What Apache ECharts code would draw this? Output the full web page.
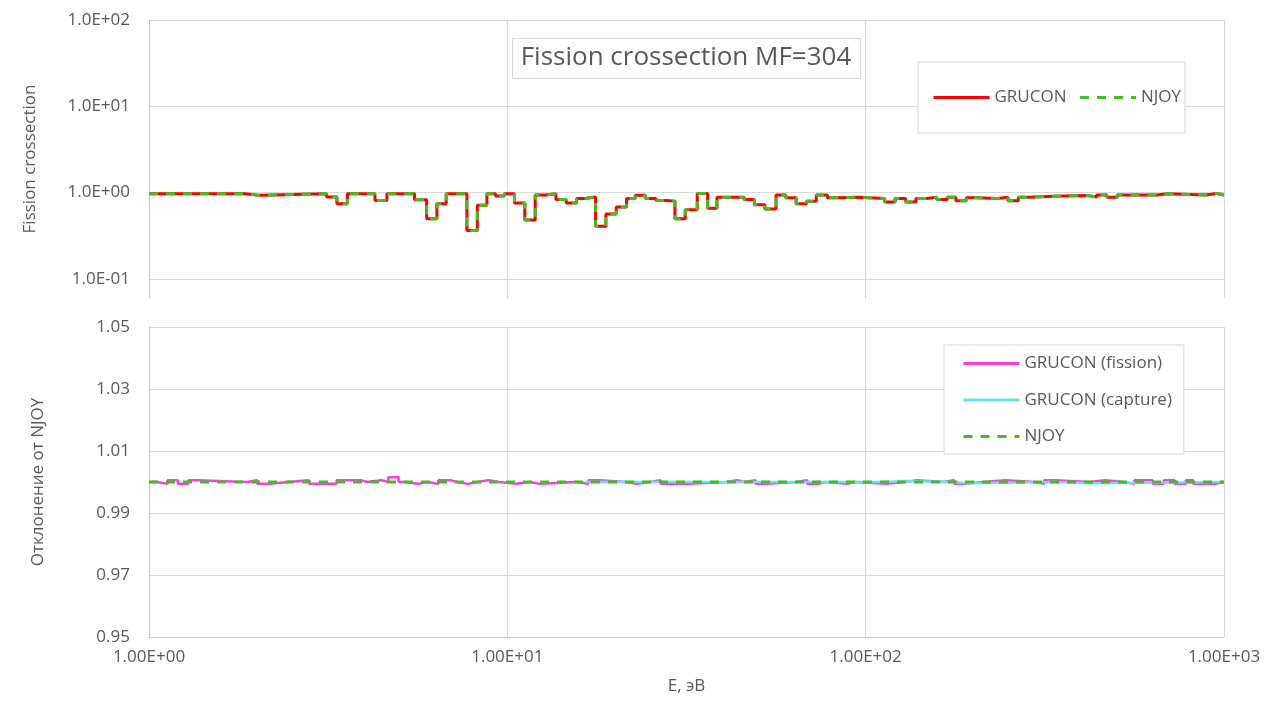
<!DOCTYPE html>
<html><head><meta charset="utf-8">
<script src="https://cdn.jsdelivr.net/npm/echarts@6/dist/echarts.min.js"></script>
<style>html,body{margin:0;padding:0;background:#fff}#c{width:1269px;height:703px}</style>
</head><body><div id="c"></div>
<script>
// ---- data ----
// top chart: group lower edges (eV), last entry = upper edge 1000 eV
const topEdges = [1,1.860,2.031,3.131,3.345,3.576,4.270,4.612,5.508,5.953,
  6.360,6.751,7.713,8.246,8.768,9.274,9.801,10.47,11.19,11.96,
  12.79,13.66,14.60,15.61,16.50,17.63,18.84,20.13,21.52,22.75,
  24.31,25.98,27.76,29.36,31.37,33.88,36.23,38.46,45.77,48.93,
  52.34,56.21,59.83,63.96,68.39,72.81,78.22,83.61,95.56,113.0,
  120.8,129.2,138.1,147.7,157.9,168.9,178.5,190.9,204.2,233.3,
  249.5,266.7,285.3,333.5,416.9,440.9,471.3,503.8,651.1,696.0,
  889.9,951.8,1000];
const grucon = [0.971,0.928,0.971,0.887,0.744,0.971,0.809,0.971,0.823,0.498,
  0.744,0.971,0.364,0.711,0.971,0.911,0.971,0.758,0.480,0.938,
  0.971,0.832,0.758,0.854,0.887,0.406,0.566,0.680,0.854,0.928,
  0.854,0.809,0.796,0.498,0.631,0.978,0.658,0.885,0.830,0.722,
  0.646,0.936,0.869,0.742,0.791,0.936,0.869,0.885,0.852,0.776,
  0.852,0.776,0.852,0.885,0.830,0.885,0.806,0.869,0.852,0.885,
  0.806,0.885,0.908,0.926,0.885,0.936,0.885,0.936,0.971,0.936,
  0.978,0.936];
const njoy = [0.971,0.928,0.971,0.887,0.744,0.971,0.809,0.971,0.823,0.498,
  0.744,0.971,0.364,0.711,0.971,0.911,0.971,0.758,0.480,0.938,
  0.971,0.832,0.758,0.854,0.887,0.406,0.566,0.680,0.854,0.928,
  0.854,0.809,0.796,0.498,0.631,0.978,0.658,0.885,0.830,0.722,
  0.646,0.936,0.869,0.742,0.791,0.936,0.869,0.885,0.852,0.776,
  0.852,0.776,0.852,0.885,0.830,0.885,0.806,0.869,0.852,0.885,
  0.806,0.885,0.908,0.926,0.885,0.936,0.885,0.936,0.971,0.936,
  0.978,0.936];

// bottom chart: ratios to NJOY
const fissionEdges = [1,1.054,1.127,1.204,1.287,1.375,1.876,2.004,2.167,2.448,
  2.796,3.338,3.898,4.074,4.453,4.654,4.973,5.198,5.618,6.003,
  6.418,6.933,7.247,7.748,8.277,8.848,9.454,10.57,11.55,12.34,
  15.57,16.83,17.98,21.47,22.95,25.06,26.80,31.85,40.82,43.81,
  45.94,49.31,52.91,63.92,68.65,73.66,77.21,88.97,93.32,114.0,
  128.3,139.5,164.5,176.6,189.5,213.3,245.8,296.9,315.0,338.0,
  423.1,465.3,523.2,562.1,632.0,678.8,728.7,781.8,820.0,944.5,1000];
const ratioFission = [1.0000,0.9994,1.0006,0.9994,1.0006,1.0000,1.0006,0.9994,1.0000,1.0006,
  0.9994,1.0006,1.0000,1.0006,1.0000,1.0015,1.0000,0.9994,1.0000,0.9994,
  1.0006,1.0000,0.9994,1.0000,1.0006,1.0000,0.9994,1.0000,0.9994,1.0000,
  0.9994,1.0006,1.0000,0.9994,1.0000,1.0006,0.9994,1.0000,1.0006,1.0000,
  1.0006,0.9994,1.0000,1.0006,0.9994,1.0000,0.9994,1.0000,0.9994,1.0000,
  1.0006,1.0000,1.0006,0.9994,1.0000,1.0006,1.0000,0.9994,1.0006,1.0000,
  1.0006,1.0000,0.9994,1.0006,0.9994,1.0006,0.9994,1.0006,0.9994,1.0000];
const captureEdges = [16.5,114.0,128.3,176.6,189.5,338.0,423.1,1000];
const ratioCapture = [1.0000,1.0003,1.0000,0.9996,1.0000,0.9996,1.0000];
const njoyRatioEdges = [1,1000];
const njoyRatio = [1.0000];

const xTickLabels = ['1.00E+00','1.00E+01','1.00E+02','1.00E+03'];
const titleText = 'Fission crossection MF=304';

// ---- helpers ----
function steps(edges, vals){ return edges.map((e,i)=>[e, vals[Math.min(i, vals.length-1)]]); }
function sci(v, d){
  const l = Math.log10(v), e = Math.round(l);
  if (Math.abs(l-e) > 1e-6) return '';
  const m = v/Math.pow(10,e);
  return m.toFixed(d)+'E'+(e<0?'-':'+')+String(Math.abs(e)).padStart(2,'0');
}
const FONT = '"Open Sans", "Noto Sans", sans-serif';
const TXT = '#595959';
const GRID = '#d9d9d9';
const AXIS = '#c6c6c6';
const RED = '#ff0000', GREEN = '#40c020', MAG = '#ff3ce0', CYAN = '#66e2ee';

const chart = echarts.init(document.getElementById('c'), null, {renderer:'canvas'});
chart.setOption({
  backgroundColor:'#fff',
  animation:false,
  textStyle:{fontFamily:FONT},
  grid:[
    {left:149, top:20, width:1075, height:278, containLabel:false, outerBoundsMode:'none'},
    {left:149, top:327, width:1075, height:310, containLabel:false, outerBoundsMode:'none'}
  ],
  xAxis:[
    {type:'log', logBase:10, gridIndex:0, min:1, max:1000,
     axisLine:{show:false}, axisTick:{show:false}, axisLabel:{show:false},
     splitLine:{show:true, lineStyle:{color:GRID, width:1}}},
    {type:'log', logBase:10, gridIndex:1, min:1, max:1000,
     name:'E, эВ', nameLocation:'middle', nameGap:41,
     nameTextStyle:{color:TXT, fontSize:17, fontFamily:FONT},
     axisLine:{show:true, lineStyle:{color:AXIS, width:1}}, axisTick:{show:false},
     axisLabel:{color:TXT, fontSize:17, fontFamily:FONT, margin:12,
       formatter:v=>{const i=Math.round(Math.log10(v)); return (Math.abs(Math.log10(v)-i)<1e-6 && xTickLabels[i])||'';}},
     splitLine:{show:true, lineStyle:{color:GRID, width:1}}}
  ],
  yAxis:[
    {type:'log', logBase:10, gridIndex:0, min:0.06, max:100,
     name:'Fission crossection', nameLocation:'middle', nameGap:110,
     nameTextStyle:{color:TXT, fontSize:17, fontFamily:FONT},
     axisLine:{show:true, lineStyle:{color:AXIS, width:1}}, axisTick:{show:false},
     axisLabel:{color:TXT, fontSize:17, fontFamily:FONT, margin:19, showMinLabel:false,
       formatter:v=>sci(v,1)},
     splitLine:{show:true, showMinLine:false, lineStyle:{color:GRID, width:1}}},
    {type:'value', gridIndex:1, min:0.95, max:1.05, interval:0.02,
     name:'Отклонение от NJOY', nameLocation:'middle', nameGap:102,
     nameTextStyle:{color:TXT, fontSize:17, fontFamily:FONT},
     axisLine:{show:true, lineStyle:{color:AXIS, width:1}}, axisTick:{show:false},
     axisLabel:{color:TXT, fontSize:17, fontFamily:FONT, margin:19, formatter:v=>v.toFixed(2)},
     splitLine:{show:true, lineStyle:{color:GRID, width:1}}}
  ],
  legend:[
    {data:['GRUCON','NJOY'], orient:'horizontal', left:918, top:62,
     padding:[27,4,27,14], itemWidth:56, itemHeight:14, itemGap:12,
     itemStyle:{opacity:0}, lineStyle:{width:3},
     backgroundColor:'#fff', borderColor:GRID, borderWidth:1, borderRadius:0,
     textStyle:{color:TXT, fontSize:17, fontFamily:FONT}, selectedMode:false},
    {data:['GRUCON (fission)','GRUCON (capture)','NJOY'], orient:'vertical', left:944, top:345,
     padding:[10,12,9,18], itemWidth:56, itemHeight:14, itemGap:19.5,
     itemStyle:{opacity:0}, lineStyle:{width:3},
     backgroundColor:'#fff', borderColor:GRID, borderWidth:1, borderRadius:0,
     textStyle:{color:TXT, fontSize:17, fontFamily:FONT}, selectedMode:false}
  ],
  graphic:[
    {type:'rect', left:512, top:38, shape:{width:348, height:40},
     style:{fill:'#fff', stroke:GRID, lineWidth:1}, z:100},
    {type:'text', x:686, y:58, z:101,
     style:{text:titleText, fill:TXT, fontSize:26, fontFamily:FONT, textAlign:'center', textVerticalAlign:'middle'}}
  ],
  series:[
    {name:'GRUCON', type:'line', xAxisIndex:0, yAxisIndex:0, step:'end', symbol:'none', showSymbol:false,
     lineStyle:{color:RED, width:3}, itemStyle:{color:RED}, data:steps(topEdges, grucon), z:2},
    {name:'NJOY', type:'line', xAxisIndex:0, yAxisIndex:0, step:'end', symbol:'none', showSymbol:false,
     lineStyle:{color:GREEN, width:3, type:[9,8]}, itemStyle:{color:GREEN}, data:steps(topEdges, njoy), z:3},
    {name:'GRUCON (fission)', type:'line', xAxisIndex:1, yAxisIndex:1, step:'end', symbol:'none', showSymbol:false,
     lineStyle:{color:MAG, width:2.5}, itemStyle:{color:MAG}, data:steps(fissionEdges, ratioFission), z:2},
    {name:'GRUCON (capture)', type:'line', xAxisIndex:1, yAxisIndex:1, step:'end', symbol:'none', showSymbol:false,
     lineStyle:{color:CYAN, width:2.5}, itemStyle:{color:CYAN}, data:steps(captureEdges, ratioCapture), z:3},
    {name:'NJOY', type:'line', xAxisIndex:1, yAxisIndex:1, step:'end', symbol:'none', showSymbol:false,
     lineStyle:{color:GREEN, width:3, type:[9,8]}, itemStyle:{color:GREEN}, data:steps(njoyRatioEdges, njoyRatio), z:4}
  ]
});
</script></body></html>
